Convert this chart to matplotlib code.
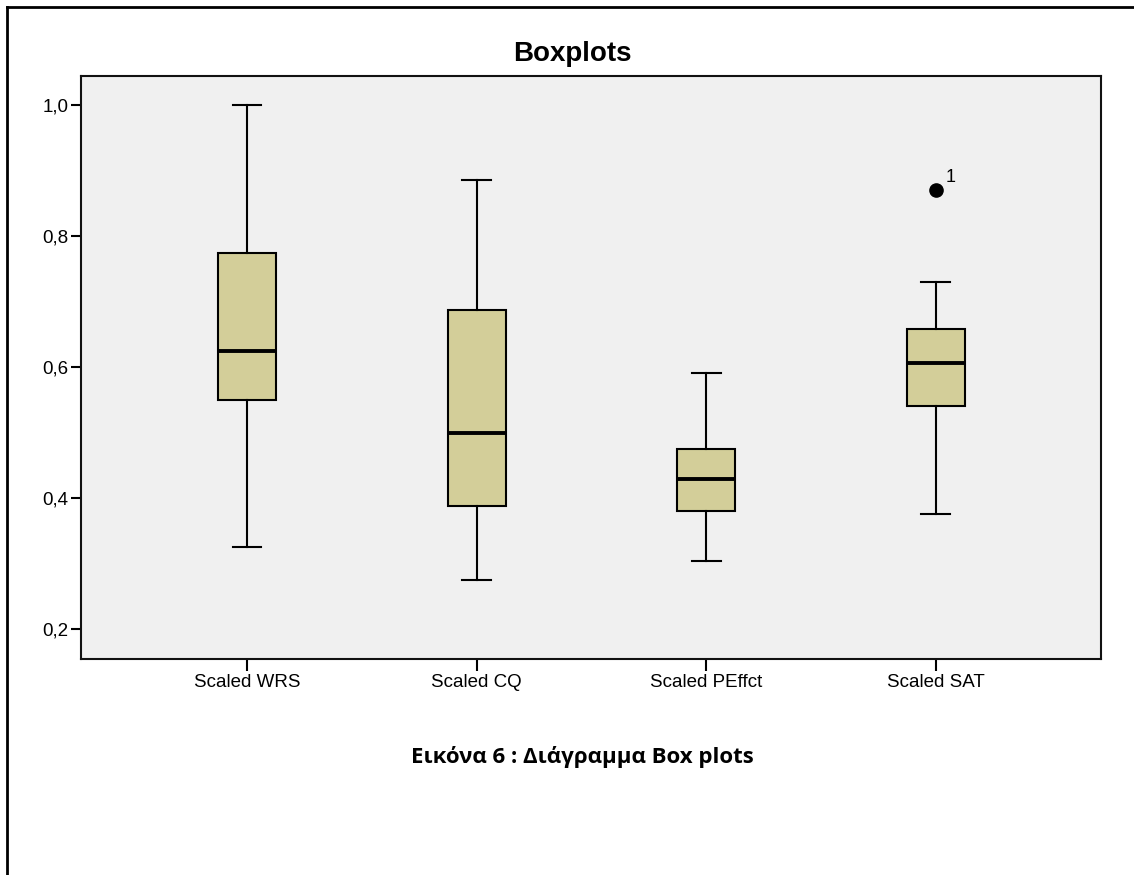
import matplotlib
matplotlib.use("Agg")
from matplotlib import pyplot as plt
from matplotlib.lines import Line2D

# values
labels = ["Scaled WRS", "Scaled CQ", "Scaled PEffct", "Scaled SAT"]
whislo = [0.325, 0.275, 0.305, 0.376]
q1 = [0.550, 0.388, 0.381, 0.541]
med = [0.625, 0.500, 0.429, 0.606]
q3 = [0.775, 0.6875, 0.476, 0.658]
whishi = [1.000, 0.886, 0.591, 0.730]
fliers = [[], [], [], [0.871]]
flier_ids = [[], [], [], ["1"]]

yticks = [0.2, 0.4, 0.6, 0.8, 1.0]
ytick_labels = ["0,2", "0,4", "0,6", "0,8", "1,0"]

plt.rcParams['font.family'] = ['Liberation Sans', 'DejaVu Sans']

fig = plt.figure(figsize=(11.34, 8.75), dpi=100)
ax = fig.add_axes([81 / 1134, 1 - 658.5 / 875, (1101.3 - 81) / 1134, (658.5 - 76) / 875])
ax.set_facecolor("#F0F0F0")

stats = []
for i in range(len(labels)):
    stats.append(dict(label=labels[i], whislo=whislo[i], q1=q1[i], med=med[i],
                      q3=q3[i], whishi=whishi[i], fliers=fliers[i]))

ax.bxp(stats, positions=[1, 2, 3, 4], widths=0.252, patch_artist=True,
       boxprops=dict(facecolor="#D3CE99", edgecolor="black", linewidth=1.5),
       medianprops=dict(color="black", linewidth=2.8),
       whiskerprops=dict(color="black", linewidth=1.5),
       capprops=dict(color="black", linewidth=1.5),
       flierprops=dict(marker="o", markerfacecolor="black", markeredgecolor="black",
                       markersize=9.5))

# case numbers next to outliers
for i in range(len(labels)):
    for v, t in zip(fliers[i], flier_ids[i]):
        ax.annotate(t, (i + 1, v), xytext=(7, 3), textcoords="offset points",
                    fontsize=13, ha="left", va="bottom")

ax.set_xlim(0.277, 4.721)
ax.set_ylim(0.1554, 1.0447)
ax.set_yticks(yticks)
ax.set_yticklabels(ytick_labels, fontsize=13.5)
ax.set_xticks([1, 2, 3, 4])
ax.set_xticklabels(labels, fontsize=13.5)
ax.tick_params(axis="y", direction="out", length=7, width=1.5, pad=2)
ax.tick_params(axis="x", direction="out", length=8.5, width=1.5, pad=3)
for s in ax.spines.values():
    s.set_linewidth(1.5)
    s.set_color("#111111")

fig.text(572.5 / 1134, 1 - 54 / 875, "Boxplots", fontsize=20, fontweight="bold",
         ha="center", va="center")
fig.text(582 / 1134, 1 - 757 / 875, "Εικόνα 6 : Διάγραμμα Box plots", fontsize=16,
         fontweight="bold", ha="center", va="center", family=["Open Sans", "DejaVu Sans"])

# outer frame (only left and top edges are visible)
x0 = 6.7 / 1134
y0 = 1 - 6.7 / 875
fig.add_artist(Line2D([x0, x0], [0, y0], transform=fig.transFigure, color="black", linewidth=2))
fig.add_artist(Line2D([x0, 1], [y0, y0], transform=fig.transFigure, color="black", linewidth=2))

fig.savefig("out.png", dpi=100)
